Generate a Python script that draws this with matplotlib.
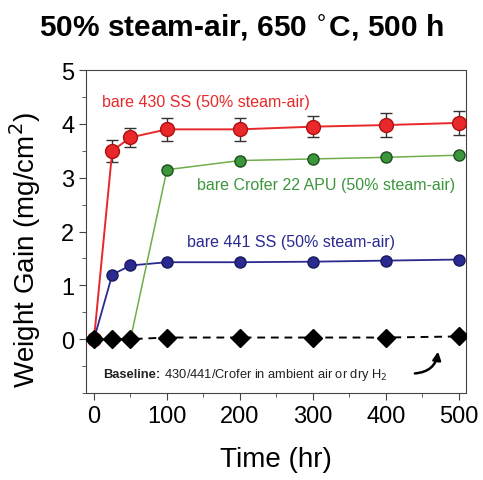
import matplotlib
matplotlib.use("Agg")
import matplotlib.pyplot as plt
from matplotlib.ticker import MultipleLocator

plt.rcParams['font.family'] = ['Liberation Sans', 'DejaVu Sans']

time_hr = [0, 25, 50, 100, 200, 300, 400, 500]

gain_430 = [0.0, 3.50, 3.75, 3.90, 3.90, 3.95, 3.98, 4.02]
err_430 = [0.0, 0.20, 0.18, 0.22, 0.22, 0.20, 0.22, 0.22]

gain_crofer = [0.0, 0.0, 0.0, 3.15, 3.32, 3.35, 3.38, 3.42]
err_crofer = [0.0, 0.0, 0.0, 0.05, 0.07, 0.06, 0.06, 0.06]

gain_441 = [0.0, 1.20, 1.37, 1.43, 1.43, 1.44, 1.46, 1.48]
err_441 = [0.0, 0.03, 0.03, 0.03, 0.03, 0.03, 0.03, 0.03]

gain_baseline = [0.0, 0.0, 0.0, 0.03, 0.03, 0.03, 0.03, 0.05]

red = '#e8282a'
green = '#3c963c'
green_line = '#6fae4a'
blue = '#2a2a90'

fig = plt.figure(figsize=(4.83, 4.81), dpi=100)
ax = fig.add_axes([0.178, 0.181, 0.787, 0.671])

ax.plot(time_hr, gain_baseline, '--', color='black', lw=1.4, dashes=(4, 3),
        marker='D', ms=9, mfc='black', mec='black', zorder=6)

ax.errorbar(time_hr, gain_441, yerr=err_441, color=blue, lw=1.3,
            marker='o', ms=8, mfc=blue, mec='#1a1a60', capsize=3, elinewidth=1,
            ecolor='#222222', zorder=3)
ax.errorbar(time_hr[2:], gain_crofer[2:], yerr=err_crofer[2:], color=green_line, lw=1.1,
            marker='o', ms=8, mfc=green, mec='#1e4e1e', capsize=3, elinewidth=1,
            ecolor='#222222', zorder=3)
ax.plot(time_hr[:3], gain_crofer[:3], color=green_line, lw=1.1, zorder=1)
ax.errorbar(time_hr, gain_430, yerr=err_430, color=red, lw=1.4,
            marker='o', ms=10, mfc=red, mec='#b01010', capsize=4.5, elinewidth=1,
            ecolor='#333333', zorder=4)

ax.text(11, 4.42, 'bare 430 SS (50% steam-air)', color=red, fontsize=11.5, va='center')
ax.text(141, 2.88, 'bare Crofer 22 APU (50% steam-air)', color=green, fontsize=11.5, va='center')
ax.text(128, 1.82, 'bare 441 SS (50% steam-air)', color=blue, fontsize=11.5, va='center')
ax.annotate('', xy=(472, -0.18), xytext=(436, -0.64),
            arrowprops=dict(arrowstyle='-|>', color='black', lw=1.8,
                            connectionstyle='arc3,rad=0.45', mutation_scale=12))

ax.set_xlim(-11, 510)
ax.set_ylim(-1, 5)
ax.set_yticks([0, 1, 2, 3, 4, 5])
ax.xaxis.set_major_locator(MultipleLocator(100))
ax.xaxis.set_minor_locator(MultipleLocator(50))
ax.yaxis.set_minor_locator(MultipleLocator(0.5))
ax.tick_params(which='both', direction='out', labelsize=17, top=False, right=False,
               color='#444444')
ax.tick_params(which='major', length=5)
ax.tick_params(which='minor', length=3)
ax.set_xlabel('Time (hr)', fontsize=20, labelpad=14)
ax.set_ylabel('Weight Gain (mg/cm$^2$)', fontsize=20)
ax.yaxis.set_label_coords(-0.112, 0.446)
for s in ax.spines.values():
    s.set_color('#444444')

fig.suptitle('50% steam-air, 650 $^{\\circ}$C, 500 h', fontsize=21.5, fontweight='bold', y=0.975)

# Baseline note: bold lead-in followed by regular text on the same baseline
base_y = -0.70
base_head = ax.text(13, base_y, 'Baseline:', color='#222222', fontsize=9.3,
                    fontweight='bold', va='baseline')
fig.canvas.draw()
head_box = base_head.get_window_extent()
x_after = ax.transData.inverted().transform((head_box.x1, head_box.y0))[0]
ax.text(x_after, base_y, ' 430/441/Crofer in ambient air or dry H$_2$',
        color='#222222', fontsize=9.3, va='baseline')

fig.savefig('out.png', dpi=100)
